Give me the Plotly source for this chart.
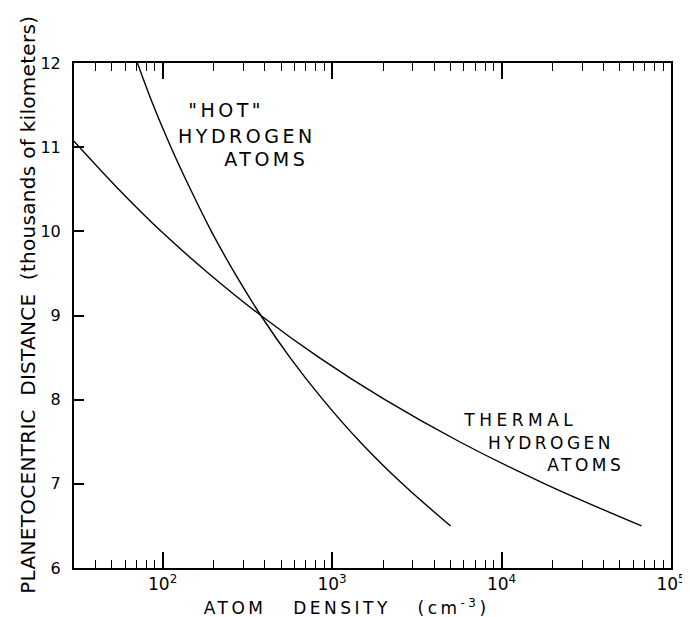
import plotly.graph_objects as go

# ---- data ----
thermal_distance = [11.07, 10.5, 10.0, 9.5, 9.0, 8.5, 8.0, 7.5, 7.0, 6.5]
thermal_density = [30, 55, 98, 187, 380, 840, 2050, 5650, 18000, 67000]

hot_distance = [12.0, 11.5, 11.0, 10.5, 10.0, 9.5, 9.0, 8.5, 8.0, 7.5, 7.0, 6.5]
hot_density = [71, 88, 112, 146, 194, 267, 380, 565, 883, 1460, 2600, 5000]

x_major_ticks = [1e2, 1e3, 1e4, 1e5]
x_major_labels = ["10<sup>2</sup>", "10<sup>3</sup>", "10<sup>4</sup>", "10<sup>5</sup>"]
x_minor_ticks = [40, 50, 60, 70, 80, 90,
                 200, 300, 400, 500, 600, 700, 800, 900,
                 2000, 3000, 4000, 5000, 6000, 7000, 8000, 9000,
                 20000, 30000, 40000, 50000, 60000, 70000, 80000, 90000]
y_ticks = [6, 7, 8, 9, 10, 11, 12]

FONT = "DejaVu Sans"

fig = go.Figure()
fig.add_trace(go.Scatter(x=thermal_density, y=thermal_distance, mode="lines",
                         line=dict(color="black", width=1.4, shape="spline"),
                         showlegend=False))
fig.add_trace(go.Scatter(x=hot_density, y=hot_distance, mode="lines",
                         line=dict(color="black", width=1.4, shape="spline"),
                         showlegend=False))

annotations = [
    dict(text="ATOM\u00a0\u00a0\u00a0DENSITY\u00a0\u00a0\u00a0(cm<sup>-3</sup>)", x=0.456, y=-0.078,
         font=dict(size=17)),
    dict(text="PLANETOCENTRIC\u00a0\u00a0DISTANCE\u00a0\u00a0(thousands of kilometers)", x=-0.0758, y=0.522,
         textangle=-90, font=dict(size=20)),
    dict(text='"HOT"', x=0.2554, y=0.907, font=dict(size=19)),
    dict(text="HYDROGEN", x=0.2900, y=0.8554, font=dict(size=19)),
    dict(text="ATOMS", x=0.3229, y=0.8099, font=dict(size=19)),
    dict(text="THERMAL", x=0.748, y=0.2931, font=dict(size=17)),
    dict(text="HYDROGEN", x=0.799, y=0.2475, font=dict(size=17)),
    dict(text="ATOMS", x=0.8583, y=0.2040, font=dict(size=17)),
]
for a in annotations:
    a.update(xref="paper", yref="paper", xanchor="center", yanchor="middle",
             showarrow=False)
    a["font"].update(family=FONT, color="black")

fig.update_layout(
    width=690, height=617,
    margin=dict(l=66, r=17, t=55, b=57),
    paper_bgcolor="white", plot_bgcolor="white",
    font=dict(family=FONT, color="black"),
    annotations=annotations,
    xaxis=dict(
        type="log", range=[1.4771, 5.0],
        tickvals=x_major_ticks, ticktext=x_major_labels,
        ticks="inside", ticklen=16, tickwidth=1.5, tickcolor="black",
        showline=True, linewidth=2, linecolor="black", mirror="ticks",
        showgrid=False, zeroline=False,
        tickfont=dict(size=17, family=FONT),
        minor=dict(tickvals=x_minor_ticks, ticks="inside", ticklen=8,
                   tickwidth=1.3, tickcolor="black", showgrid=False),
    ),
    yaxis=dict(
        range=[6, 12], tickvals=y_ticks,
        ticks="inside", ticklen=10, tickwidth=1.5, tickcolor="black",
        showline=True, linewidth=2, linecolor="black", mirror=True,
        showgrid=False, zeroline=False,
        tickfont=dict(size=16, family=FONT),
        ticklabelstandoff=8,
    ),
)

spacing_css = """
var s = document.createElement('style');
s.textContent = `
.annotation[data-index="0"] text { letter-spacing: 3.5px; }
.annotation[data-index="1"] text { letter-spacing: 0.3px; }
.annotation[data-index="2"] text, .annotation[data-index="3"] text, .annotation[data-index="4"] text { letter-spacing: 3.5px; }
.annotation[data-index="5"] text { letter-spacing: 4.5px; }
.annotation[data-index="6"] text, .annotation[data-index="7"] text { letter-spacing: 3.5px; }
`;
document.head.appendChild(s);
"""

fig.write_html("out.html", post_script=spacing_css)
